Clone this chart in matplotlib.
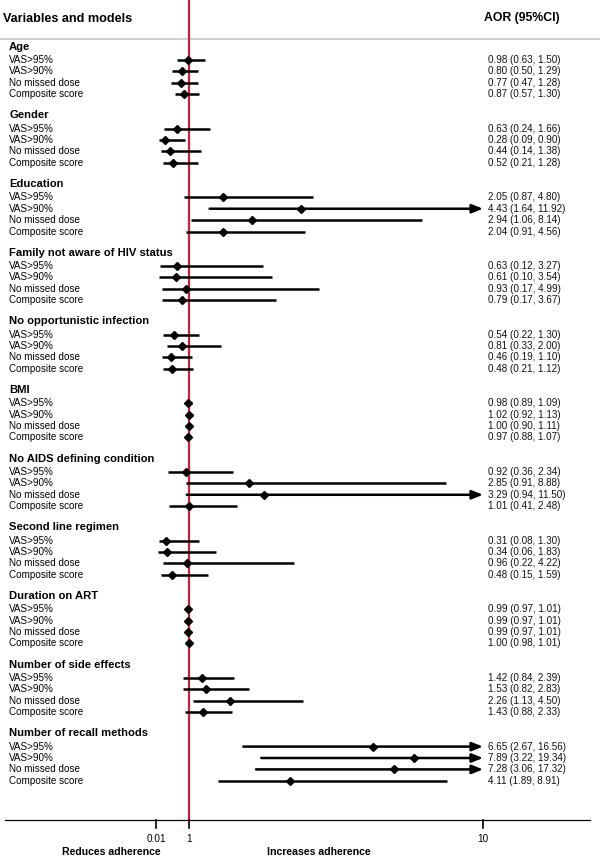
import matplotlib.pyplot as plt
from matplotlib.transforms import blended_transform_factory

plt.rcParams['font.family'] = ['Liberation Sans', 'DejaVu Sans']

groups = ['Age', 'Gender', 'Education', 'Family not aware of HIV status',
          'No opportunistic infection', 'BMI', 'No AIDS defining condition',
          'Second line regimen', 'Duration on ART', 'Number of side effects',
          'Number of recall methods']
models = ['VAS>95%', 'VAS>90%', 'No missed dose', 'Composite score']

aor = [[0.98, 0.80, 0.77, 0.87], [0.63, 0.28, 0.44, 0.52], [2.05, 4.43, 2.94, 2.04],
       [0.63, 0.61, 0.93, 0.79], [0.54, 0.81, 0.46, 0.48], [0.98, 1.02, 1.00, 0.97],
       [0.92, 2.85, 3.29, 1.01], [0.31, 0.34, 0.96, 0.48], [0.99, 0.99, 0.99, 1.00],
       [1.42, 1.53, 2.26, 1.43], [6.65, 7.89, 7.28, 4.11]]
lower = [[0.63, 0.50, 0.47, 0.57], [0.24, 0.09, 0.14, 0.21], [0.87, 1.64, 1.06, 0.91],
         [0.12, 0.10, 0.17, 0.17], [0.22, 0.33, 0.19, 0.21], [0.89, 0.92, 0.90, 0.88],
         [0.36, 0.91, 0.94, 0.41], [0.08, 0.06, 0.22, 0.15], [0.97, 0.97, 0.97, 0.98],
         [0.84, 0.82, 1.13, 0.88], [2.67, 3.22, 3.06, 1.89]]
upper = [[1.50, 1.29, 1.28, 1.30], [1.66, 0.90, 1.38, 1.28], [4.80, 11.92, 8.14, 4.56],
         [3.27, 3.54, 4.99, 3.67], [1.30, 2.00, 1.10, 1.12], [1.09, 1.13, 1.11, 1.07],
         [2.34, 8.88, 11.50, 2.48], [1.30, 1.83, 4.22, 1.59], [1.01, 1.01, 1.01, 1.01],
         [2.39, 2.83, 4.50, 2.33], [16.56, 19.34, 17.32, 8.91]]

tick_vals = [0.01, 1, 10]
tick_labels = ['0.01', '1', '10']
x_cap = 10  # CIs beyond this get an arrow

# layout (y in pixel units, axes covers whole figure)
W, H = 600, 858
top_head = 46.7
group_step = 68.66
head_gap = 13.3
row_step = 11.4
axis_y = 820
red = '#c8203f'

fig = plt.figure(figsize=(6, 8.58), dpi=100)
ax = fig.add_axes([0, 0, 1, 1])
ax.set_xlim(-156 / 32.7, (W - 156) / 32.7)
ax.set_ylim(H, 0)
ax.axis('off')
px = blended_transform_factory(ax.transAxes, ax.transData)

# header
ax.text(3 / W, 18.5, 'Variables and models', transform=px, fontsize=9.1,
        fontweight='bold', va='center', ha='left')
ax.text(484 / W, 18.5, 'AOR (95%CI)', transform=px, fontsize=8.8,
        fontweight='bold', va='center', ha='left')
ax.axhline(39, color='#cdcdcd', lw=1.3, zorder=1)

for g, name in enumerate(groups):
    hy = top_head + group_step * g
    ax.text(9 / W, hy, name, transform=px, fontsize=8.1, fontweight='bold',
            va='center', ha='left')
    for i, m in enumerate(models):
        y = hy + head_gap + row_step * i
        a, lo, hi = aor[g][i], lower[g][i], upper[g][i]
        ax.text(9 / W, y, m, transform=px, fontsize=7.1, va='center', ha='left')
        ax.text(488 / W, y, f'{a:.2f} ({lo:.2f}, {hi:.2f})', transform=px,
                fontsize=7.1, va='center', ha='left', color='#111111')
        if hi > x_cap:
            ax.annotate('', xy=(x_cap, y), xytext=(lo, y),
                        arrowprops=dict(arrowstyle='-|>,head_length=0.65,head_width=0.26',
                                        lw=1.8, color='black', shrinkA=0, shrinkB=0),
                        zorder=3)
        else:
            ax.plot([lo, hi], [y, y], color='black', lw=1.8, solid_capstyle='butt', zorder=3)
        ax.plot(a, y, marker='D', color='black', ms=3.6, zorder=4)

# reference line and bottom axis
ax.plot([1, 1], [0, axis_y], color=red, lw=1.6, zorder=2)
ax.plot([-151 / 32.7, (590 - 156) / 32.7], [axis_y, axis_y], color='black', lw=0.9)
for v, lab in zip(tick_vals, tick_labels):
    ax.plot([v, v], [axis_y, axis_y + 8], color='black', lw=1.2)
    ax.text(v, axis_y + 19, lab, fontsize=7.2, ha='center', va='center')
ax.text(111 / W, 852, 'Reduces adherence', transform=px, fontsize=7.6,
        fontweight='bold', ha='center', va='center')
ax.text(319 / W, 852, 'Increases adherence', transform=px, fontsize=7.6,
        fontweight='bold', ha='center', va='center')

fig.savefig('out.png', dpi=100)
